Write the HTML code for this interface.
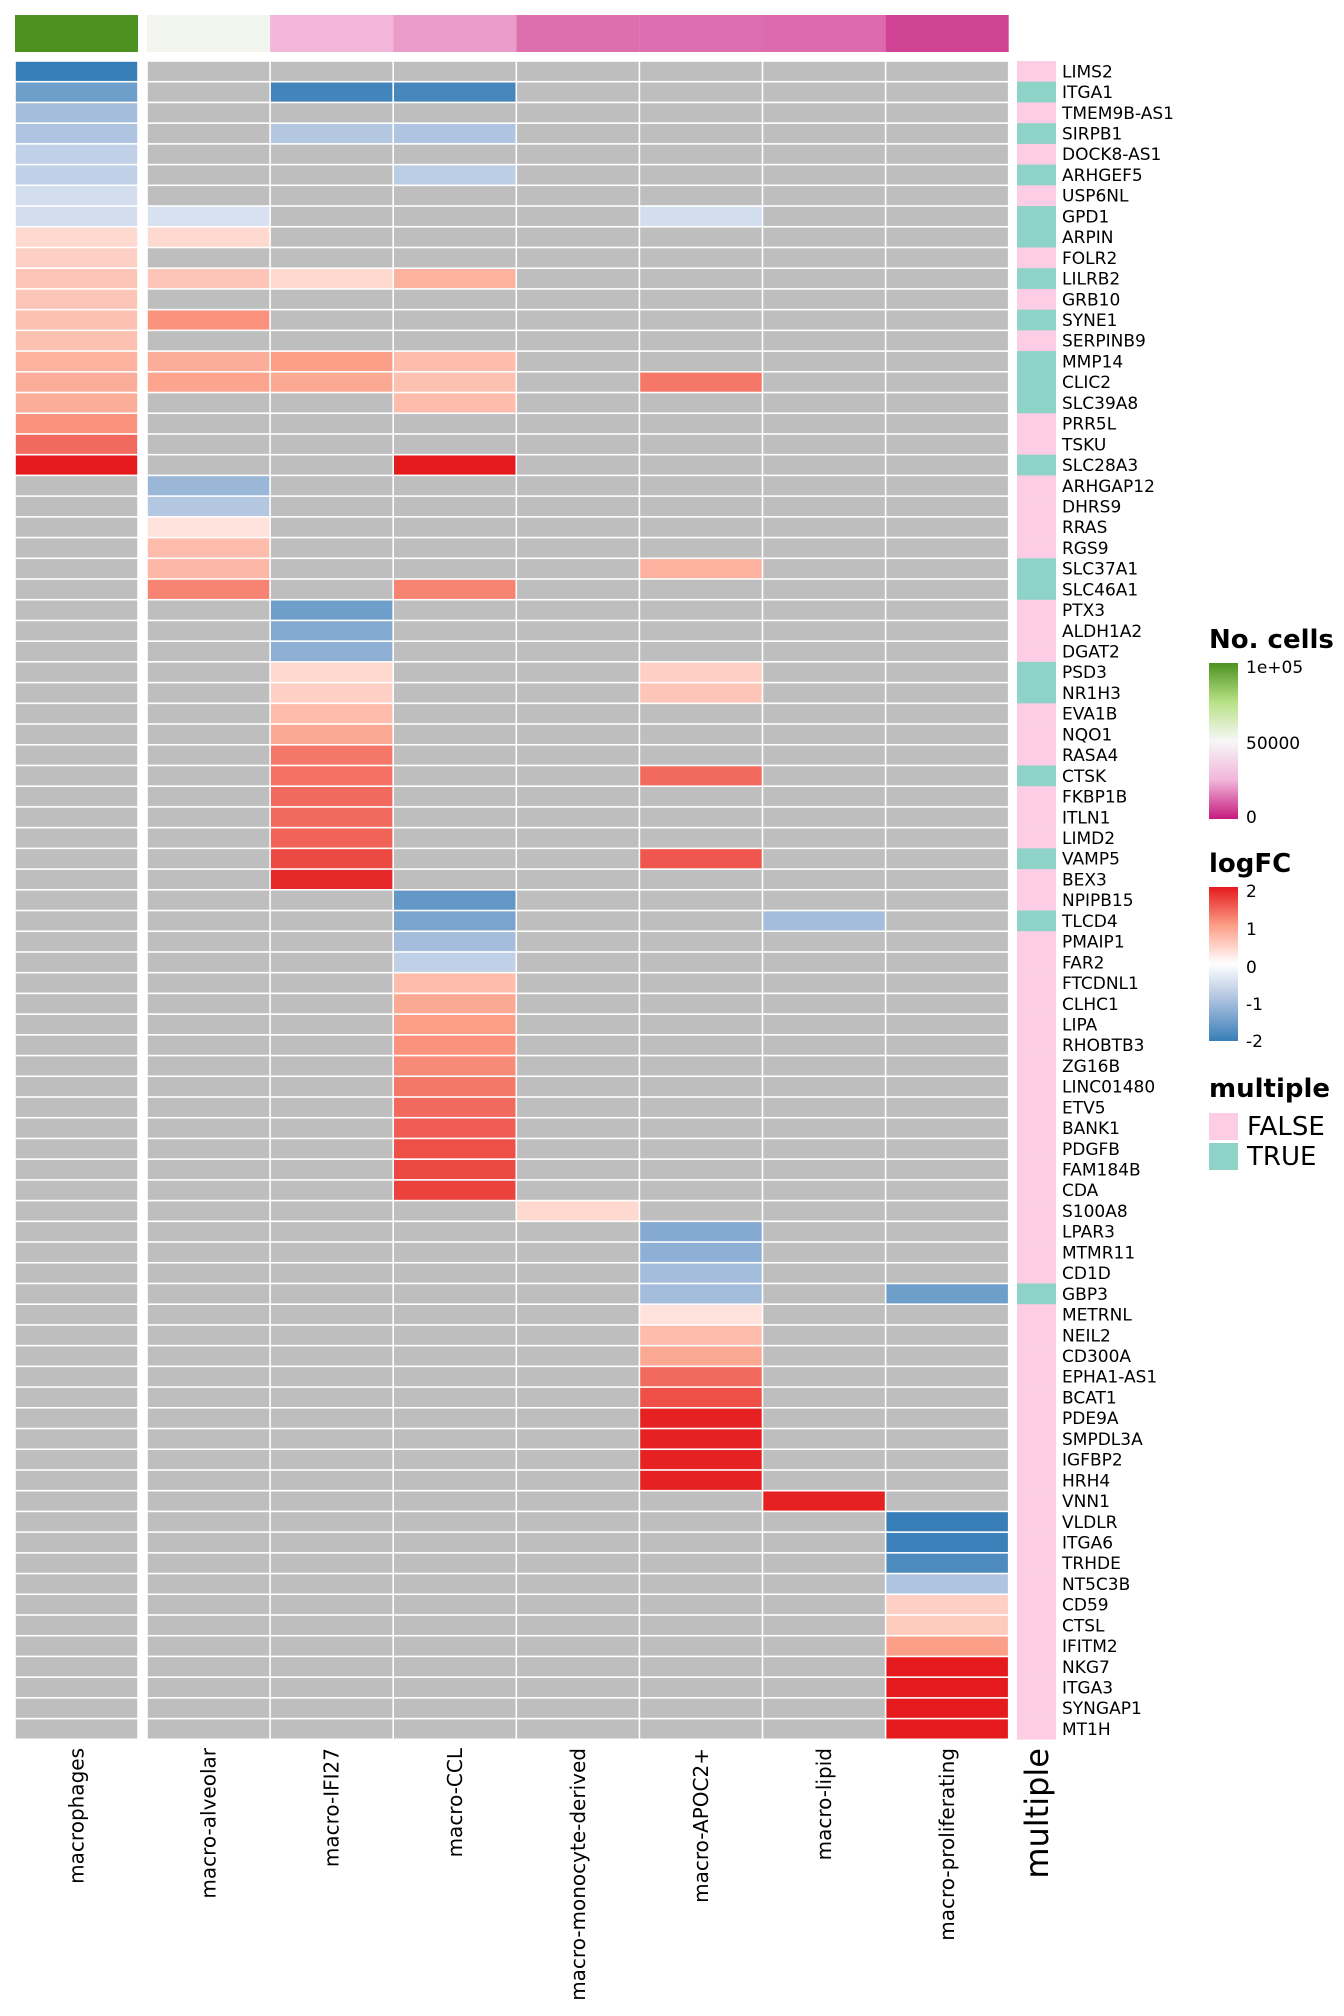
<!DOCTYPE html>
<html><head><meta charset="utf-8"><style>body{margin:0;background:#fff}svg{display:block}text{font-family:"DejaVu Sans","Liberation Sans",sans-serif}</style></head>
<body>
<svg id="chart" width="1344" height="2016" viewBox="0 0 1344 2016" xmlns="http://www.w3.org/2000/svg">
<defs>
<linearGradient id="gCells" x1="0" y1="0" x2="0" y2="1"><stop offset="0" stop-color="#4d9221"/><stop offset="0.25" stop-color="#b8e186"/><stop offset="0.5" stop-color="#f7f7f7"/><stop offset="0.75" stop-color="#f1b6da"/><stop offset="1" stop-color="#c51b7d"/></linearGradient>
<linearGradient id="gFC" x1="0" y1="0" x2="0" y2="1"><stop offset="0" stop-color="#e41a1c"/><stop offset="0.25" stop-color="#fc9f88"/><stop offset="0.5" stop-color="#ffffff"/><stop offset="0.75" stop-color="#a5bddc"/><stop offset="1" stop-color="#377eb8"/></linearGradient>
</defs>
<g id="cells"></g>
<g id="legend">
<text x="1209" y="648" font-size="26" font-weight="bold">No. cells</text>
<rect x="1209" y="663" width="29" height="156" fill="url(#gCells)"/>
<text x="1246" y="673" font-size="17">1e+05</text>
<text x="1246" y="749" font-size="17">50000</text>
<text x="1246" y="823" font-size="17">0</text>
<text x="1209" y="872" font-size="26" font-weight="bold">logFC</text>
<rect x="1209" y="887" width="29" height="154" fill="url(#gFC)"/>
<text x="1246" y="897" font-size="17">2</text>
<text x="1246" y="935" font-size="17">1</text>
<text x="1246" y="973" font-size="17">0</text>
<text x="1246" y="1010" font-size="17">-1</text>
<text x="1246" y="1047" font-size="17">-2</text>
<text x="1209" y="1097" font-size="26" font-weight="bold">multiple</text>
<rect x="1209" y="1113" width="29" height="27" fill="#fccde5"/>
<rect x="1209" y="1143" width="29" height="27" fill="#8dd3c7"/>
<text x="1247" y="1135" font-size="26">FALSE</text>
<text x="1247" y="1165" font-size="26">TRUE</text>
</g>
</svg>
<script>
const genes=["LIMS2","ITGA1","TMEM9B-AS1","SIRPB1","DOCK8-AS1","ARHGEF5","USP6NL","GPD1","ARPIN","FOLR2","LILRB2","GRB10","SYNE1","SERPINB9","MMP14","CLIC2","SLC39A8","PRR5L","TSKU","SLC28A3","ARHGAP12","DHRS9","RRAS","RGS9","SLC37A1","SLC46A1","PTX3","ALDH1A2","DGAT2","PSD3","NR1H3","EVA1B","NQO1","RASA4","CTSK","FKBP1B","ITLN1","LIMD2","VAMP5","BEX3","NPIPB15","TLCD4","PMAIP1","FAR2","FTCDNL1","CLHC1","LIPA","RHOBTB3","ZG16B","LINC01480","ETV5","BANK1","PDGFB","FAM184B","CDA","S100A8","LPAR3","MTMR11","CD1D","GBP3","METRNL","NEIL2","CD300A","EPHA1-AS1","BCAT1","PDE9A","SMPDL3A","IGFBP2","HRH4","VNN1","VLDLR","ITGA6","TRHDE","NT5C3B","CD59","CTSL","IFITM2","NKG7","ITGA3","SYNGAP1","MT1H"];
const cellTypes=["macrophages","macro-alveolar","macro-IFI27","macro-CCL","macro-monocyte-derived","macro-APOC2+","macro-lipid","macro-proliferating"];
const cellCounts=[100000,52000,25000,21000,13500,13200,12800,6500];
const multipleTrue=["ITGA1","SIRPB1","ARHGEF5","GPD1","ARPIN","LILRB2","SYNE1","MMP14","CLIC2","SLC39A8","SLC28A3","SLC37A1","SLC46A1","PSD3","NR1H3","CTSK","VAMP5","TLCD4","GBP3"];
// [gene, cellTypeIndex, logFC]
const logfcEntries=[
["LIMS2",0,-2],["ITGA1",0,-1.5],["TMEM9B-AS1",0,-1.0],["SIRPB1",0,-0.9],["DOCK8-AS1",0,-0.7],["ARHGEF5",0,-0.7],["USP6NL",0,-0.5],["GPD1",0,-0.5],["ARPIN",0,0.4],["FOLR2",0,0.5],["LILRB2",0,0.6],["GRB10",0,0.6],["SYNE1",0,0.65],["SERPINB9",0,0.65],["MMP14",0,0.8],["CLIC2",0,0.85],["SLC39A8",0,0.85],["PRR5L",0,1.1],["TSKU",0,1.4],["SLC28A3",0,2],
["ITGA1",2,-1.9],["ITGA1",3,-1.85],["SIRPB1",2,-0.85],["SIRPB1",3,-0.9],["ARHGEF5",3,-0.75],["GPD1",1,-0.45],["GPD1",5,-0.5],["ARPIN",1,0.4],["LILRB2",1,0.6],["LILRB2",2,0.4],["LILRB2",3,0.8],["SYNE1",1,1.1],["MMP14",1,0.85],["MMP14",2,1.0],["MMP14",3,0.7],["CLIC2",1,0.95],["CLIC2",2,0.9],["CLIC2",3,0.65],["CLIC2",5,1.3],["SLC39A8",3,0.7],["SLC28A3",3,2],
["ARHGAP12",1,-1.1],["DHRS9",1,-0.85],["RRAS",1,0.3],["RGS9",1,0.7],["SLC37A1",1,0.75],["SLC46A1",1,1.2],["SLC37A1",5,0.8],["SLC46A1",3,1.2],
["PTX3",2,-1.5],["ALDH1A2",2,-1.3],["DGAT2",2,-1.2],["PSD3",2,0.4],["NR1H3",2,0.5],["EVA1B",2,0.7],["NQO1",2,0.9],["RASA4",2,1.3],["CTSK",2,1.35],["FKBP1B",2,1.4],["ITLN1",2,1.4],["LIMD2",2,1.45],["VAMP5",2,1.65],["BEX3",2,1.9],["PSD3",5,0.5],["NR1H3",5,0.6],["CTSK",5,1.4],["VAMP5",5,1.55],
["NPIPB15",3,-1.6],["TLCD4",3,-1.4],["PMAIP1",3,-1.0],["FAR2",3,-0.7],["FTCDNL1",3,0.7],["CLHC1",3,0.9],["LIPA",3,1.0],["RHOBTB3",3,1.1],["ZG16B",3,1.15],["LINC01480",3,1.3],["ETV5",3,1.4],["BANK1",3,1.5],["PDGFB",3,1.6],["FAM184B",3,1.65],["CDA",3,1.7],["TLCD4",6,-1.0],
["S100A8",4,0.4],
["LPAR3",5,-1.3],["MTMR11",5,-1.2],["CD1D",5,-1.0],["GBP3",5,-1.0],["METRNL",5,0.3],["NEIL2",5,0.7],["CD300A",5,0.9],["EPHA1-AS1",5,1.4],["BCAT1",5,1.6],["PDE9A",5,1.95],["SMPDL3A",5,1.95],["IGFBP2",5,1.95],["HRH4",5,1.95],["GBP3",7,-1.5],
["VNN1",6,1.95],
["VLDLR",7,-2],["ITGA6",7,-1.95],["TRHDE",7,-1.8],["NT5C3B",7,-0.9],["CD59",7,0.5],["CTSL",7,0.55],["IFITM2",7,1.0],["NKG7",7,2],["ITGA3",7,2],["SYNGAP1",7,2],["MT1H",7,2]
];
const NS="http://www.w3.org/2000/svg";
const svg=document.getElementById('cells');
function hex(c){return [1,3,5].map(i=>parseInt(c.substr(i,2),16));}
function lerp(stops,v){
  for(let i=0;i<stops.length-1;i++){const [a,ca]=stops[i],[b,cb]=stops[i+1];
    if(v<=b||i===stops.length-2){let t=Math.max(0,Math.min(1,(v-a)/(b-a)));const x=hex(ca),y=hex(cb);
      return 'rgb('+x.map((q,k)=>Math.round(q+(y[k]-q)*t)).join(',')+')';}}
}
const fcStops=[[-2,"#377eb8"],[-1,"#a5bddc"],[0,"#ffffff"],[1,"#fc9f88"],[2,"#e41a1c"]];
const ncStops=[[0,"#c51b7d"],[25000,"#f1b6da"],[50000,"#f7f7f7"],[75000,"#b8e186"],[100000,"#4d9221"]];
// axis functions
const colX=i=>i===0?15:147+(i-1)*123.1;
const colW=i=>i===0?123:123.1;
const rowY=r=>61+r*20.72;
const rowH=20.72;
function mk(tag,attrs){const e=document.createElementNS(NS,tag);for(const k in attrs)e.setAttribute(k,attrs[k]);svg.appendChild(e);return e;}
cellTypes.forEach((ct,i)=>{
  const e=mk('rect',{x:colX(i),y:15,width:colW(i),height:37,fill:lerp(ncStops,cellCounts[i])});
  
  
});
const lookup={};logfcEntries.forEach(([g,c,v])=>{lookup[g+'|'+c]=v;});
genes.forEach((g,r)=>{
  cellTypes.forEach((ct,c)=>{
    const v=lookup[g+'|'+c];
    const e=mk('rect',{x:colX(c)+0.8,y:rowY(r)+0.8,width:colW(c)-1.6,height:rowH-1.6,fill:v===undefined?'#bebebe':lerp(fcStops,v)});
    
    
  });
  const isT=multipleTrue.includes(g);
  const m=mk('rect',{x:1017,y:rowY(r),width:39,height:rowH+0.3,fill:isT?'#8dd3c7':'#fccde5'});
  
  
  const t=mk('text',{x:1062,y:rowY(r)+rowH/2+6,'font-size':17});
  t.textContent=g;
  
  
});
cellTypes.forEach((ct,i)=>{
  const cx=colX(i)+colW(i)/2+7;
  const t=mk('text',{x:cx,y:1748,'font-size':20,'text-anchor':'end',transform:'rotate(-90 '+cx+' 1748)'});
  t.textContent=ct;
  
  
});
const mt=mk('text',{x:1048,y:1748,'font-size':32,'text-anchor':'end',transform:'rotate(-90 1048 1748)'});
mt.textContent='multiple';


</script>
</body></html>
